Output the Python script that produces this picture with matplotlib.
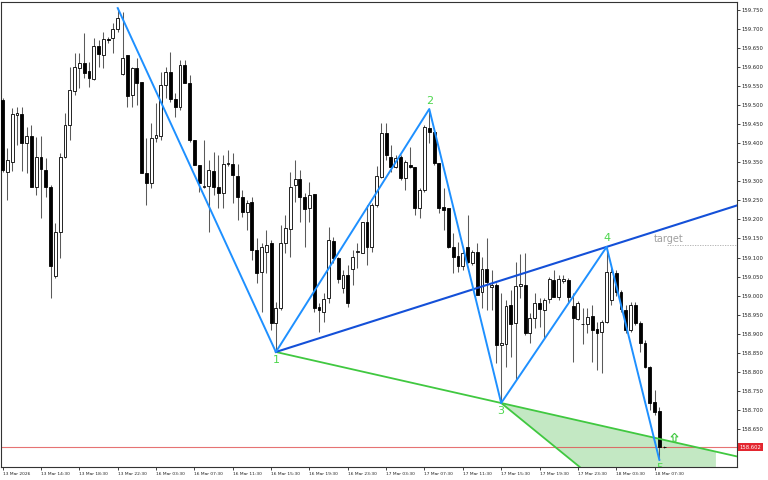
import matplotlib
matplotlib.use('Agg')
import matplotlib.pyplot as plt
import numpy as np
from matplotlib.path import Path
from matplotlib.transforms import blended_transform_factory

# M30 candles, 13 Mar 2026 10:30 -> 18 Mar 2026 09:00
opens = [159.514, 159.325, 159.351, 159.474, 159.477, 159.401, 159.419, 159.285, 159.364, 159.330,
         159.285, 159.052, 159.167, 159.364, 159.448, 159.537, 159.598, 159.611, 159.590, 159.569,
         159.655, 159.632, 159.674, 159.676, 159.700, 159.582, 159.632, 159.527, 159.598, 159.561,
         159.322, 159.296, 159.414, 159.419, 159.553, 159.587, 159.516, 159.495, 159.605, 159.558,
         159.409, 159.343, 159.285, 159.288, 159.327, 159.285, 159.269, 159.346, 159.346, 159.314,
         159.259, 159.220, 159.246, 159.120, 159.062, 159.115, 159.138, 158.928, 158.968, 159.138,
         159.175, 159.290, 159.306, 159.259, 159.230, 159.267, 158.970, 158.957, 158.994, 159.143,
         159.099, 159.020, 159.054, 159.070, 159.115, 159.112, 159.193, 159.128, 159.238, 159.311,
         159.427, 159.364, 159.338, 159.364, 159.309, 159.343, 159.338, 159.230, 159.277, 159.440,
         159.430, 159.348, 159.233, 159.230, 159.128, 159.104, 159.078, 159.128, 159.086, 159.115,
         159.010, 159.070, 159.023, 159.028, 158.870, 158.873, 158.975, 158.928, 159.025, 159.028,
         158.902, 158.941, 158.981, 158.962, 158.991, 159.041, 158.996, 159.038, 159.041, 158.973,
         158.939, 158.926, 158.926, 158.947, 158.912, 158.905, 158.931, 158.989, 159.059, 159.010,
         158.962, 158.910, 158.975, 158.928, 158.876, 158.813, 158.721, 158.697, 158.603]
highs = [159.519, 159.388, 159.493, 159.495, 159.495, 159.443, 159.448, 159.416, 159.419, 159.361,
         159.290, 159.191, 159.374, 159.479, 159.600, 159.637, 159.637, 159.689, 159.613, 159.676,
         159.671, 159.692, 159.679, 159.716, 159.755, 159.745, 159.632, 159.600, 159.624, 159.561,
         159.414, 159.453, 159.506, 159.587, 159.600, 159.640, 159.532, 159.619, 159.619, 159.579,
         159.409, 159.343, 159.409, 159.356, 159.377, 159.369, 159.369, 159.382, 159.374, 159.346,
         159.277, 159.251, 159.259, 159.151, 159.138, 159.172, 159.146, 158.983, 159.185, 159.212,
         159.325, 159.356, 159.330, 159.269, 159.298, 159.267, 158.981, 159.007, 159.180, 159.154,
         159.101, 159.067, 159.080, 159.120, 159.138, 159.193, 159.238, 159.243, 159.340, 159.453,
         159.453, 159.395, 159.369, 159.369, 159.356, 159.390, 159.338, 159.283, 159.448, 159.490,
         159.435, 159.348, 159.283, 159.230, 159.164, 159.141, 159.120, 159.212, 159.120, 159.138,
         159.101, 159.151, 159.067, 159.033, 159.007, 158.989, 159.015, 159.088, 159.109, 159.112,
         158.954, 159.007, 158.994, 158.994, 159.049, 159.067, 159.054, 159.054, 159.046, 159.007,
         158.986, 158.968, 158.968, 158.975, 158.931, 158.936, 159.128, 159.073, 159.067, 159.015,
         158.975, 158.983, 158.983, 158.933, 158.884, 158.815, 158.752, 158.708, 158.605]
lows = [159.325, 159.251, 159.327, 159.395, 159.327, 159.322, 159.285, 159.264, 159.204, 159.259,
        158.994, 159.046, 159.099, 159.361, 159.409, 159.527, 159.545, 159.571, 159.548, 159.566,
        159.600, 159.598, 159.663, 159.637, 159.692, 159.579, 159.495, 159.495, 159.500, 159.322,
        159.238, 159.283, 159.403, 159.409, 159.519, 159.508, 159.469, 159.487, 159.558, 159.403,
        159.343, 159.272, 159.283, 159.167, 159.264, 159.230, 159.230, 159.340, 159.243, 159.199,
        159.206, 159.172, 159.094, 159.033, 158.957, 159.059, 158.910, 158.852, 158.962, 159.112,
        159.101, 159.246, 159.193, 159.128, 159.193, 158.957, 158.905, 158.931, 158.981, 159.086,
        159.033, 159.007, 158.970, 159.028, 159.073, 159.112, 159.080, 159.115, 159.233, 159.309,
        159.356, 159.325, 159.335, 159.304, 159.277, 159.335, 159.212, 159.204, 159.272, 159.401,
        159.343, 159.217, 159.172, 159.125, 159.059, 159.062, 159.067, 159.086, 159.080, 159.002,
        158.968, 158.962, 158.962, 158.823, 158.718, 158.813, 158.839, 158.779, 158.994, 158.897,
        158.876, 158.915, 158.918, 158.889, 158.981, 158.996, 158.989, 159.033, 158.983, 158.826,
        158.936, 158.873, 158.902, 158.826, 158.805, 158.797, 158.928, 158.975, 158.999, 158.957,
        158.902, 158.905, 158.923, 158.852, 158.810, 158.700, 158.687, 158.569, 158.600]
closes = [159.330, 159.356, 159.477, 159.479, 159.401, 159.419, 159.285, 159.364, 159.332, 159.285,
          159.078, 159.167, 159.364, 159.448, 159.540, 159.600, 159.611, 159.584, 159.571, 159.655,
          159.634, 159.674, 159.671, 159.700, 159.729, 159.624, 159.524, 159.598, 159.558, 159.322,
          159.296, 159.414, 159.422, 159.553, 159.587, 159.516, 159.495, 159.605, 159.558, 159.409,
          159.343, 159.296, 159.288, 159.330, 159.285, 159.269, 159.346, 159.348, 159.317, 159.259,
          159.220, 159.243, 159.120, 159.059, 159.128, 159.133, 158.928, 158.968, 159.138, 159.178,
          159.285, 159.306, 159.259, 159.227, 159.264, 158.968, 158.962, 158.991, 159.146, 159.099,
          159.044, 159.054, 158.981, 159.101, 159.117, 159.193, 159.128, 159.238, 159.314, 159.427,
          159.369, 159.338, 159.361, 159.309, 159.351, 159.338, 159.230, 159.277, 159.443, 159.430,
          159.348, 159.230, 159.225, 159.128, 159.101, 159.078, 159.112, 159.088, 159.115, 159.002,
          159.070, 159.036, 159.028, 158.870, 158.876, 158.973, 158.926, 159.025, 159.031, 158.902,
          158.941, 158.981, 158.965, 158.989, 159.044, 158.996, 159.044, 159.044, 158.996, 158.941,
          158.981, 158.925, 158.944, 158.910, 158.902, 158.931, 159.062, 159.062, 159.010, 158.965,
          158.910, 158.975, 158.928, 158.876, 158.813, 158.718, 158.695, 158.603, 158.602]

time_labels = ['13 Mar 2026', '13 Mar 14:30', '13 Mar 18:30', '13 Mar 22:30', '16 Mar 03:30',
               '16 Mar 07:30', '16 Mar 11:30', '16 Mar 15:30', '16 Mar 19:30', '16 Mar 23:30',
               '17 Mar 03:30', '17 Mar 07:30', '17 Mar 11:30', '17 Mar 15:30', '17 Mar 19:30',
               '17 Mar 23:30', '18 Mar 03:30', '18 Mar 07:30']
price_ticks = [158.65, 158.70, 158.75, 158.80, 158.85, 158.90, 158.95, 159.00, 159.05, 159.10,
               159.15, 159.20, 159.25, 159.30, 159.35, 159.40, 159.45, 159.50, 159.55, 159.60,
               159.65, 159.70, 159.75]

# zigzag pivots (bar index, price) and wave numbers
zz_idx = [24, 57, 89, 104, 126, 137]
zz_price = [159.755, 158.852, 159.490, 158.718, 159.128, 158.569]
wave_labels = ['', '1', '2', '3', '4', '5']

current_price = 158.602
target_price = 159.133
target_start = 138.6
fan_end_idx = 120.1
fan_end_price = 158.553
fill_end_idx = 148.8
arrow_idx = 140
arrow_price = 158.629

xmin, xmax = -0.35, 153.2
ymin, ymax = 158.550, 159.771

o = np.array(opens)
h = np.array(highs)
l = np.array(lows)
c = np.array(closes)
x = np.arange(len(o))

fig = plt.figure(figsize=(7.68, 4.8), dpi=100)
ax = fig.add_axes([1 / 768, 13 / 480, 736 / 768, 465 / 480])
ax.set_xlim(xmin, xmax)
ax.set_ylim(ymin, ymax)

# candles
ax.vlines(x, l, h, color='#5a5a5a', lw=0.75, zorder=2)
bottom = np.minimum(o, c)
height = np.maximum(np.abs(c - o), 0.0015)
up = c >= o
ax.bar(x[up], height[up], bottom=bottom[up], width=0.6, color='white',
       edgecolor='black', linewidth=0.6, zorder=3)
ax.bar(x[~up], height[~up], bottom=bottom[~up], width=0.6, color='black',
       edgecolor='black', linewidth=0.6, zorder=3)

# current price line
ax.axhline(current_price, color='#e05050', lw=0.8, alpha=0.8, zorder=1.5)

# wave 1-3 line and projection fan
x1, y1 = zz_idx[1], zz_price[1]
x3, y3 = zz_idx[3], zz_price[3]
x4, y4 = zz_idx[4], zz_price[4]
s13 = (y3 - y1) / (x3 - x1)
s14 = (y4 - y1) / (x4 - x1)
sfan = (fan_end_price - y3) / (fan_end_idx - x3)
low_y = ymin - 0.2
low_x = x3 + (low_y - y3) / sfan

poly = [(x3, y3), (fill_end_idx, y3 + s13 * (fill_end_idx - x3)),
        (fill_end_idx, low_y), (low_x, low_y)]
ax.add_patch(plt.Polygon(poly, closed=True, facecolor='#bde6bd', edgecolor='none',
                         alpha=0.9, zorder=1))
ax.plot([x1, xmax], [y1, y1 + s13 * (xmax - x1)], color='#40c840', lw=1.3, zorder=4)
ax.plot([x3, low_x], [y3, low_y], color='#40c840', lw=1.3, zorder=4)

# wave 1-4 line
ax.plot([x1, xmax], [y1, y1 + s14 * (xmax - x1)], color='#1450d8', lw=1.5, zorder=4)

# zigzag
ax.plot(zz_idx, zz_price, color='#1e90ff', lw=1.4, zorder=5)

for i in range(1, len(zz_idx)):
    above = zz_price[i] > zz_price[i - 1]
    ax.annotate(wave_labels[i], (zz_idx[i], zz_price[i]),
                xytext=(0, 2.5 if above else -2.5), textcoords='offset points',
                ha='center', va='bottom' if above else 'top',
                fontsize=8, color='#4cd64c', zorder=6, clip_on=True)

# target
ax.plot([target_start, xmax], [target_price, target_price], color='#aaaaaa',
        lw=0.6, ls=(0, (1.5, 1.5)), zorder=4)
ax.text(135.9, target_price + 0.016, 'target', fontsize=7, color='#a0a0a0',
        ha='left', va='center', zorder=6)

# buy arrow
arrow = Path([(0, 1), (0.8, 0.15), (0.35, 0.15), (0.35, -0.9), (-0.35, -0.9),
              (-0.35, 0.15), (-0.8, 0.15), (0, 1)])
ax.plot(arrow_idx, arrow_price, marker=arrow, ms=6, mfc='white', mec='#40c840',
        mew=0.8, zorder=6)

# axes styling
for sp in ax.spines.values():
    sp.set_color('#333333')
    sp.set_linewidth(0.8)

ax.yaxis.tick_right()
ax.set_yticks(price_ticks)
ax.set_yticklabels(['%.3f' % p for p in price_ticks])
ax.tick_params(axis='y', direction='out', length=2.5, width=0.6, pad=1,
               labelsize=3.8, colors='#222222')

ax.set_xticks(list(range(0, 8 * len(time_labels), 8)))
ax.set_xticklabels(time_labels)
ax.tick_params(axis='x', direction='out', length=2.5, width=0.6, pad=1.2,
               labelsize=3.2, colors='#222222')
for t in ax.get_xticklabels():
    t.set_horizontalalignment('left')

trans = blended_transform_factory(ax.transAxes, ax.transData)
ax.text(1.003, current_price, '%.3f' % current_price, transform=trans, fontsize=3.8,
        color='white', ha='left', va='center', clip_on=False,
        bbox=dict(boxstyle='square,pad=0.3', fc='#e3262f', ec='none'))

fig.savefig('out.png', dpi=100, facecolor='white')
